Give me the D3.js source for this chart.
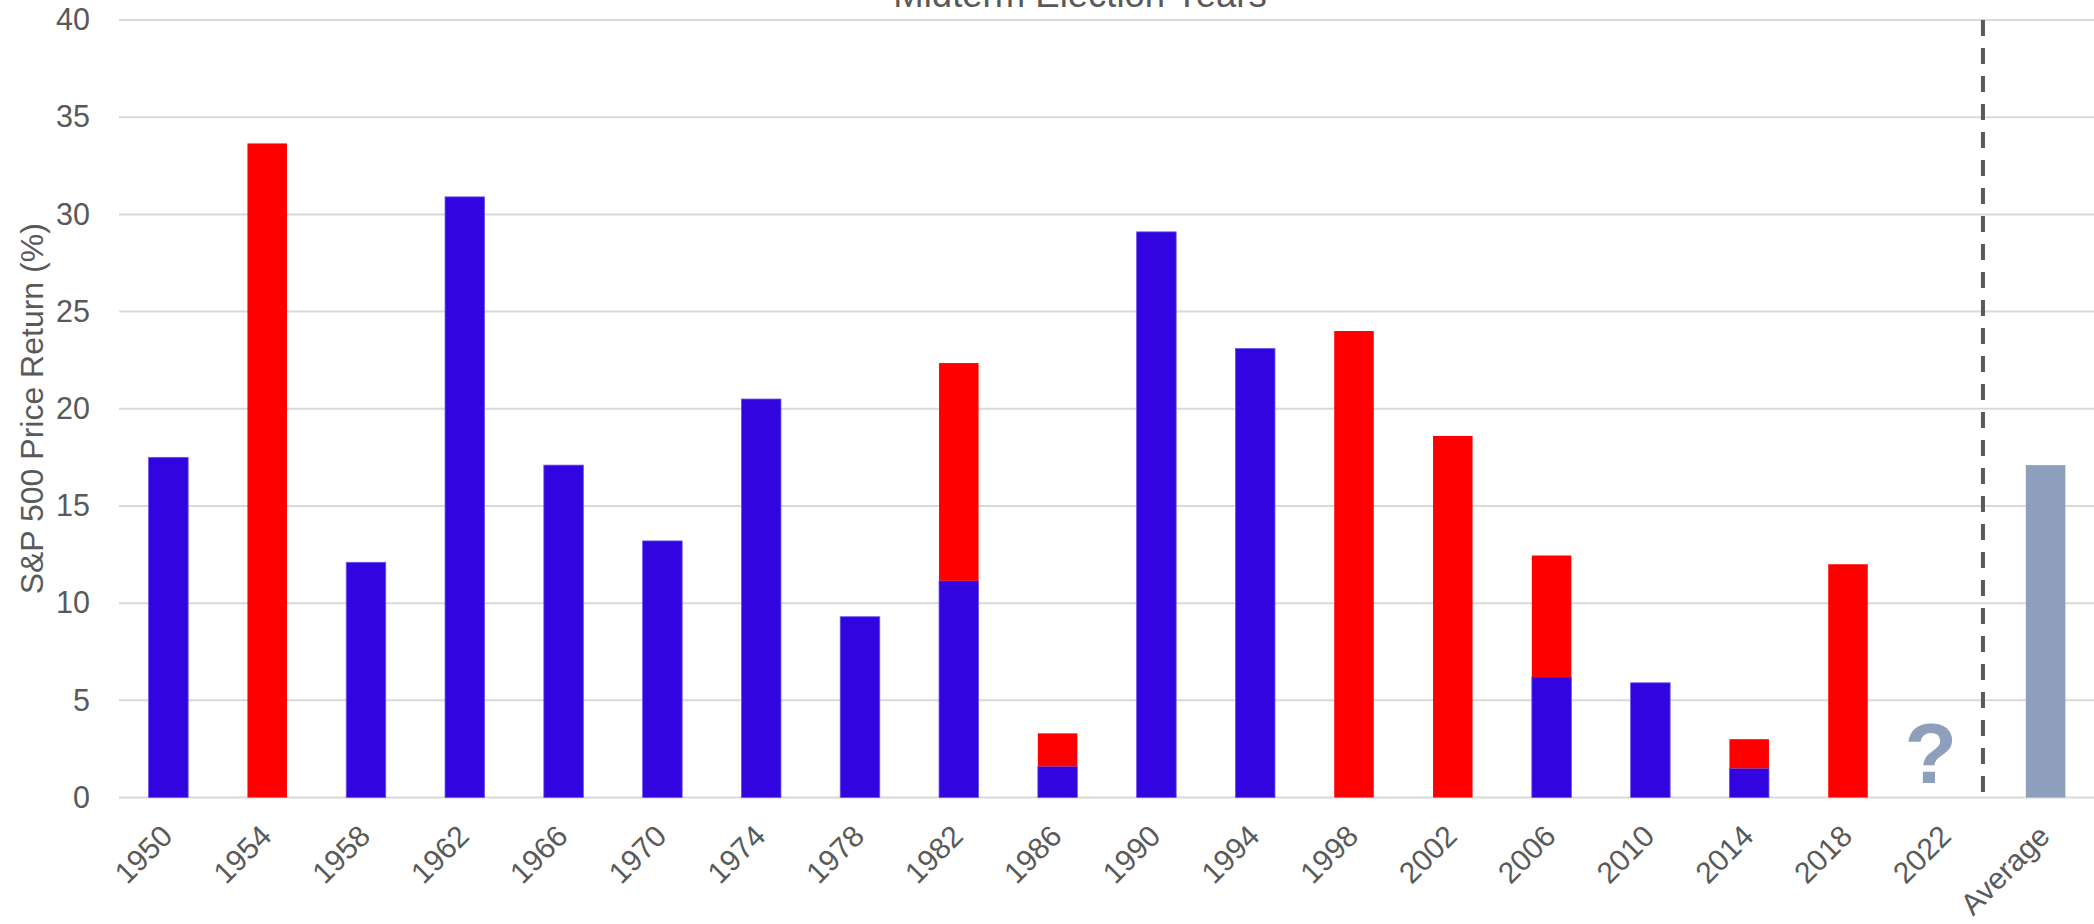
<!DOCTYPE html>
<html>
<head>
<meta charset="utf-8">
<script src="https://cdn.jsdelivr.net/npm/d3@7"></script>
<style>
  html, body { margin: 0; padding: 0; background: #ffffff; }
  svg { display: block; font-family: "Liberation Sans", Arial, sans-serif; }
</style>
</head>
<body>
<svg id="chart" width="2094" height="924"></svg>
<script>
// Midterm election years and the average column
const categories = ["1950", "1954", "1958", "1962", "1966", "1970", "1974", "1978", "1982",
  "1986", "1990", "1994", "1998", "2002", "2006", "2010", "2014", "2018", "2022", "Average"];

// S&P 500 price return (%), split into blue and red portions of each column
const blueReturn = [17.5, 0, 12.1, 30.9, 17.1, 13.2, 20.5, 9.3, 11.15,
  1.6, 29.1, 23.1, 0, 0, 6.2, 5.9, 1.5, 0, 0, 0];
const redReturn = [0, 33.65, 0, 0, 0, 0, 0, 0, 11.2,
  1.7, 0, 0, 24.0, 18.6, 6.25, 0, 1.5, 12.0, 0, 0];
const averageReturn = [0, 0, 0, 0, 0, 0, 0, 0, 0,
  0, 0, 0, 0, 0, 0, 0, 0, 0, 0, 17.1];

const yTicks = [0, 5, 10, 15, 20, 25, 30, 35, 40];
const pendingYear = "2022";
const chartTitle = "Midterm Election Years";
const yTitle = "S&P 500 Price Return (%)";

const colors = { blue: "#3104e0", red: "#ff0000", average: "#8e9fbc" };
const textColor = "#595959";

const svg = d3.select("#chart");
const W = 2094, H = 924;
const plot = { left: 119, right: 2095, top: 20, bottom: 797.5 };

const x = d3.scaleBand()
  .domain(categories)
  .range([plot.left, plot.right])
  .paddingInner(0.6)
  .paddingOuter(0.3);

const y = d3.scaleLinear()
  .domain([0, 40])
  .range([plot.bottom, plot.top]);

// Horizontal gridlines
svg.append("g")
  .selectAll("line")
  .data(yTicks)
  .join("line")
  .attr("x1", plot.left)
  .attr("x2", W)
  .attr("y1", d => y(d))
  .attr("y2", d => y(d))
  .attr("stroke", "#d9d9d9")
  .attr("stroke-width", 2);

// Y axis tick labels
const yAxis = d3.axisLeft(y).tickValues(yTicks).tickSize(0).tickPadding(0);
const yAxisG = svg.append("g")
  .attr("transform", `translate(${plot.left - 29},0)`)
  .call(yAxis);
yAxisG.select(".domain").remove();
yAxisG.selectAll("text")
  .attr("fill", textColor)
  .attr("font-size", 30.5)
  .attr("font-family", "'Liberation Sans', Arial, sans-serif");

// Stacked columns
const table = categories.map((c, i) => ({
  category: c,
  blue: blueReturn[i],
  red: redReturn[i],
  average: averageReturn[i]
}));
const stack = d3.stack().keys(["blue", "red", "average"]);
const layers = stack(table);

svg.append("g")
  .selectAll("g")
  .data(layers)
  .join("g")
  .attr("fill", d => colors[d.key])
  .each(function (layer) {
    d3.select(this)
      .selectAll("rect")
      .data(layer.filter(d => d[1] - d[0] > 0))
      .join("rect")
      .attr("x", d => x(d.data.category))
      .attr("width", x.bandwidth())
      .attr("y", d => y(d[1]))
      .attr("height", d => y(d[0]) - y(d[1]))
      .attr("stroke", layer.key === "blue" ? "#6a52ec" : "none")
      .attr("stroke-width", layer.key === "blue" ? 0.8 : 0);
  });

// Question mark for the pending year
svg.append("text")
  .attr("x", x(pendingYear) + x.bandwidth() / 2 - 16)
  .attr("y", 783)
  .attr("text-anchor", "middle")
  .attr("font-size", 86)
  .attr("font-weight", "bold")
  .attr("fill", colors.average)
  .text("?");

// Dashed separator before the average column
const sepX = x(pendingYear) + x.bandwidth() / 2 + x.step() * 0.366;
svg.append("line")
  .attr("x1", sepX)
  .attr("x2", sepX)
  .attr("y1", y(40))
  .attr("y2", y(0))
  .attr("stroke", "#595959")
  .attr("stroke-width", 4)
  .attr("stroke-dasharray", "16,12");

// X axis labels, rotated
svg.append("g")
  .selectAll("text")
  .data(categories)
  .join("text")
  .attr("transform", d => `translate(${x(d) + x.bandwidth() / 2 + 6},838) rotate(-45)`)
  .attr("text-anchor", "end")
  .attr("font-size", 30)
  .attr("fill", textColor)
  .text(d => d);

// Y axis title
svg.append("text")
  .attr("transform", `translate(43,${(plot.top + plot.bottom) / 2}) rotate(-90)`)
  .attr("text-anchor", "middle")
  .attr("font-size", 32)
  .attr("fill", textColor)
  .text(yTitle);

// Chart title (partly above the visible area)
svg.append("text")
  .attr("x", 1080)
  .attr("y", 7)
  .attr("text-anchor", "middle")
  .attr("font-size", 36.5)
  .attr("fill", textColor)
  .text(chartTitle);
</script>
</body>
</html>
